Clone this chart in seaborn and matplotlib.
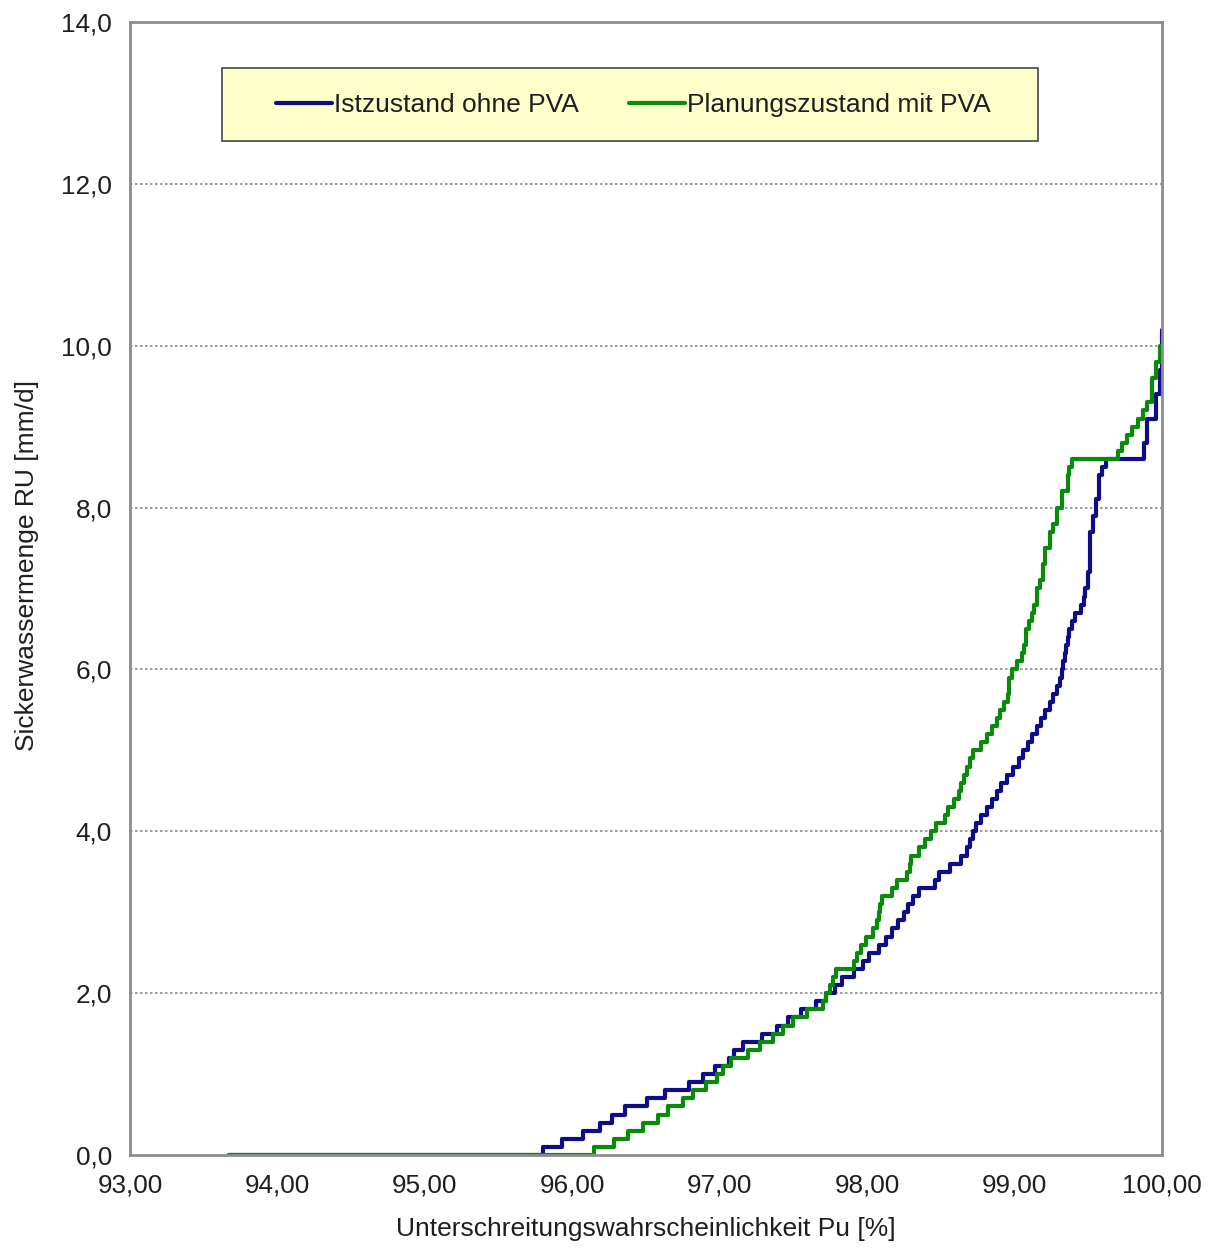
import matplotlib
matplotlib.use("Agg")
import matplotlib.pyplot as plt
import seaborn as sns
import pandas as pd
from matplotlib.patches import Rectangle
from matplotlib.ticker import FuncFormatter

# Unterschreitungswahrscheinlichkeit Pu [%] und Sickerwassermenge [mm/d] (Treppenkurven)
ist_pu = [93.67, 95.80, 95.93, 96.07, 96.19, 96.27, 96.36, 96.51, 96.63, 96.79,
          96.89, 96.97, 97.06, 97.10, 97.16, 97.29, 97.39, 97.46, 97.55, 97.65,
          97.72, 97.78, 97.83, 97.91, 97.97, 98.01, 98.08, 98.13, 98.17, 98.21,
          98.25, 98.28, 98.31, 98.35, 98.46, 98.49, 98.56, 98.64, 98.68, 98.70,
          98.72, 98.74, 98.77, 98.81, 98.85, 98.88, 98.91, 98.95, 98.99, 99.03,
          99.06, 99.09, 99.12, 99.15, 99.18, 99.21, 99.24, 99.26, 99.29, 99.31,
          99.32, 99.33, 99.34, 99.35, 99.36, 99.37, 99.39, 99.41, 99.45, 99.47,
          99.48, 99.50, 99.51, 99.53, 99.55, 99.57, 99.59, 99.62, 99.88, 99.90,
          99.96, 99.985, 100.0]
ist_ru = [0.0, 0.1, 0.2, 0.3, 0.4, 0.5, 0.6, 0.7, 0.8, 0.9,
          1.0, 1.1, 1.2, 1.3, 1.4, 1.5, 1.6, 1.7, 1.8, 1.9,
          2.0, 2.1, 2.2, 2.3, 2.4, 2.5, 2.6, 2.7, 2.8, 2.9,
          3.0, 3.1, 3.2, 3.3, 3.4, 3.5, 3.6, 3.7, 3.8, 3.9,
          4.0, 4.1, 4.2, 4.3, 4.4, 4.5, 4.6, 4.7, 4.8, 4.9,
          5.0, 5.1, 5.2, 5.3, 5.4, 5.5, 5.6, 5.7, 5.8, 5.9,
          6.0, 6.1, 6.2, 6.3, 6.4, 6.5, 6.6, 6.7, 6.8, 6.9,
          7.0, 7.2, 7.7, 7.9, 8.1, 8.4, 8.5, 8.6, 8.8, 9.1,
          9.4, 9.7, 10.2]

plan_pu = [93.67, 96.15, 96.28, 96.38, 96.48, 96.58, 96.65, 96.75, 96.82, 96.91,
           96.98, 97.02, 97.08, 97.19, 97.27, 97.36, 97.43, 97.50, 97.59, 97.70,
           97.72, 97.75, 97.77, 97.79, 97.91, 97.93, 97.96, 97.99, 98.04, 98.07,
           98.08, 98.09, 98.10, 98.17, 98.20, 98.27, 98.29, 98.30, 98.35, 98.39,
           98.43, 98.47, 98.53, 98.55, 98.59, 98.62, 98.64, 98.66, 98.68, 98.70,
           98.72, 98.77, 98.81, 98.85, 98.88, 98.90, 98.93, 98.955, 98.96, 98.98,
           99.02, 99.05, 99.065, 99.075, 99.08, 99.10, 99.12, 99.13, 99.15, 99.17,
           99.19, 99.21, 99.24, 99.26, 99.29, 99.32, 99.36, 99.37, 99.39, 99.70,
           99.73, 99.76, 99.80, 99.84, 99.87, 99.90, 99.93, 99.96, 99.99]
plan_ru = [0.0, 0.1, 0.2, 0.3, 0.4, 0.5, 0.6, 0.7, 0.8, 0.9,
           1.0, 1.1, 1.2, 1.3, 1.4, 1.5, 1.6, 1.7, 1.8, 1.9,
           2.0, 2.1, 2.2, 2.3, 2.4, 2.5, 2.6, 2.7, 2.8, 2.9,
           3.0, 3.1, 3.2, 3.3, 3.4, 3.5, 3.6, 3.7, 3.8, 3.9,
           4.0, 4.1, 4.2, 4.3, 4.4, 4.5, 4.6, 4.7, 4.8, 4.9,
           5.0, 5.1, 5.2, 5.3, 5.4, 5.5, 5.6, 5.7, 5.9, 6.0,
           6.1, 6.2, 6.3, 6.4, 6.5, 6.6, 6.7, 6.8, 7.0, 7.1,
           7.3, 7.5, 7.7, 7.8, 8.0, 8.2, 8.4, 8.5, 8.6, 8.7,
           8.8, 8.9, 9.0, 9.1, 9.2, 9.3, 9.6, 9.8, 10.0]

x_ticks = [93, 94, 95, 96, 97, 98, 99, 100]
y_ticks = [0, 2, 4, 6, 8, 10, 12, 14]

sns.set_style("white")
plt.rcParams["font.family"] = ["Liberation Sans", "DejaVu Sans"]

df_ist = pd.DataFrame({"pu": ist_pu, "ru": ist_ru})
df_plan = pd.DataFrame({"pu": plan_pu, "ru": plan_ru})

fig = plt.figure(figsize=(12.12, 12.48), dpi=100)
ax = fig.add_axes([0.1073, 0.0745, 0.8514, 0.9079])

sns.lineplot(data=df_ist, x="pu", y="ru", ax=ax, estimator=None, sort=False,
             drawstyle="steps-post", color="#0d0d8a", linewidth=3.0,
             label="Istzustand ohne PVA")
sns.lineplot(data=df_plan, x="pu", y="ru", ax=ax, estimator=None, sort=False,
             drawstyle="steps-post", color="#0a8a0a", linewidth=3.0,
             label="Planungszustand mit PVA")

ax.set_xlim(93, 100)
ax.set_ylim(0, 14)
ax.set_xticks(x_ticks)
ax.set_yticks(y_ticks)
ax.xaxis.set_major_formatter(FuncFormatter(lambda v, p: f"{v:.2f}".replace(".", ",")))
ax.yaxis.set_major_formatter(FuncFormatter(lambda v, p: f"{v:.1f}".replace(".", ",")))
ax.tick_params(direction="inout", length=10, width=1.3, color="#808080",
               labelsize=18.8, labelcolor="#1e1e1e", pad=8)

for y in y_ticks[1:-1]:
    ax.axhline(y, color="#8a8a8a", linestyle=(0, (1.5, 1.5)), linewidth=1.2, zorder=0)

for s in ax.spines.values():
    s.set_color("#8c8c8c")
    s.set_linewidth(2.0)

ax.set_xlabel("Unterschreitungswahrscheinlichkeit Pu [%]", fontsize=19,
              color="#1e1e1e", labelpad=14)
ax.set_ylabel("Sickerwassermenge RU [mm/d]", fontsize=19, color="#1e1e1e")
ax.yaxis.set_label_coords(-0.088, 0.52)

# Legendenkasten
ax.add_patch(Rectangle((0.089, 0.895), 0.791, 0.0644, transform=ax.transAxes,
                       facecolor="#ffffcc", edgecolor="#444444", linewidth=1.2, zorder=3))
leg = ax.legend(loc="center", bbox_to_anchor=(0.488, 0.9265), ncol=2, frameon=False,
                fontsize=19, handlelength=2.1, handletextpad=0.1, columnspacing=1.9)
for t in leg.get_texts():
    t.set_color("#1e1e1e")
leg.set_zorder(4)

fig.savefig("out.png", dpi=100)
